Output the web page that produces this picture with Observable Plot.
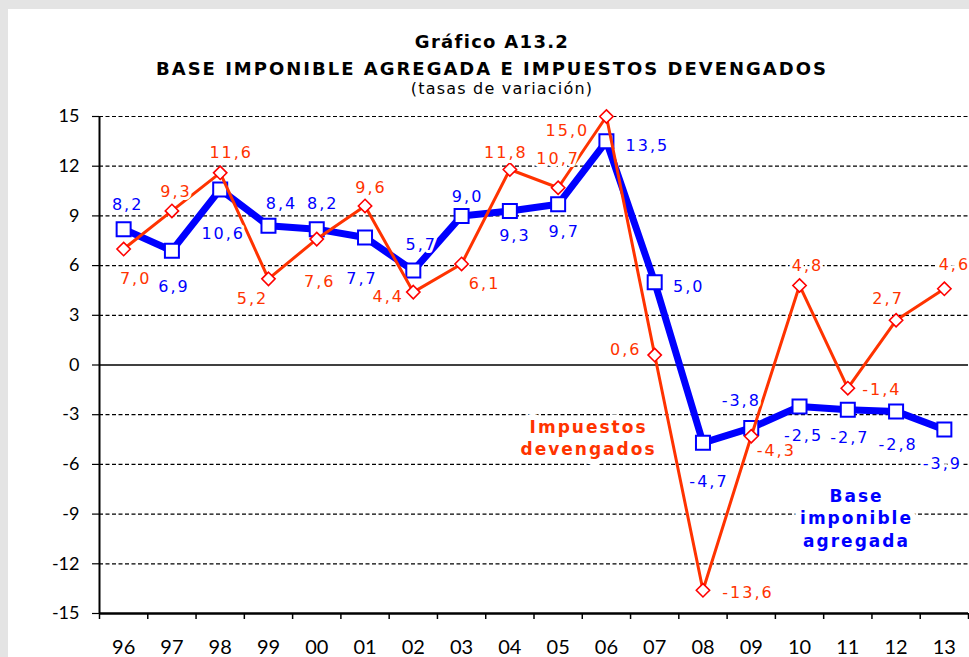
<!DOCTYPE html>
<html>
<head>
<meta charset="utf-8">
<script src="https://cdn.jsdelivr.net/npm/d3@7"></script>
<script src="https://cdn.jsdelivr.net/npm/@observablehq/plot@0.6"></script>
<style>
  html, body { margin: 0; padding: 0; width: 969px; height: 657px; overflow: hidden; background: #e4e4e4; font-family: "DejaVu Sans", Verdana, sans-serif; }
  #panel { position: absolute; left: 8px; top: 9px; width: 961px; height: 648px; background: #ffffff; }
  #chart { position: absolute; left: 0; top: 0; }
  .ttl { position: absolute; left: 0; width: 984px; text-align: center; font-weight: bold; color: #000; white-space: nowrap; }
  #t1 { top: 33px; font-size: 18px; line-height: 18px; letter-spacing: 1.3px; }
  #t2 { top: 60px; font-size: 18px; line-height: 18px; letter-spacing: 2px; }
  #t3 { top: 81px; left: 10px; font-size: 16px; line-height: 16px; letter-spacing: 1.2px; font-weight: normal; }
  #chart svg g[aria-label="text"] text { letter-spacing: 2px; }
</style>
</head>
<body>
<div id="panel"></div>
<div id="chart"></div>
<div class="ttl" id="t1">Gráfico A13.2</div>
<div class="ttl" id="t2">BASE IMPONIBLE AGREGADA E IMPUESTOS DEVENGADOS</div>
<div class="ttl" id="t3">(tasas de variación)</div>
<script>
// ---- data ----
const years = ["96","97","98","99","00","01","02","03","04","05","06","07","08","09","10","11","12","13"];
const baseImponible = [8.2, 6.9, 10.6, 8.4, 8.2, 7.7, 5.7, 9.0, 9.3, 9.7, 13.5, 5.0, -4.7, -3.8, -2.5, -2.7, -2.8, -3.9];
const impuestosDevengados = [7.0, 9.3, 11.6, 5.2, 7.6, 9.6, 4.4, 6.1, 11.8, 10.7, 15.0, 0.6, -13.6, -4.3, 4.8, -1.4, 2.7, 4.6];
const yTicks = [-15, -12, -9, -6, -3, 0, 3, 6, 9, 12, 15];

// label placement offsets (pixels) relative to each marker
const baseLabelOffsets = [[3,-24],[1,36],[2,44],[12,-22],[5,-25],[-4,41],[7,-26],[5,-19],[4,25],[5,28],[40,5],[33,5],[5,39],[-11,-27],[3,29],[1,28],[1,33],[-3,34]];
const impLabelOffsets = [[11,30],[3,-19],[10,-20],[-17,20],[2,43],[5,-18],[-26,5],[22,20],[-5,-17],[-1,-29],[-40,14],[-30,-5],[44,3],[24,15],[7,-20],[33,2],[-9,-21],[9,-24]];

const annotations = [
  {text: "Impuestos\ndevengados", x: 9.63, y: -4.35, color: "#ff3300"},
  {text: "Base\nimponible\nagregada", x: 15.18, y: -9.2, color: "#0000ff"}
];

// ---- build tables ----
const base = years.map((yr, i) => ({i, v: baseImponible[i], off: baseLabelOffsets[i]}));
const imp = years.map((yr, i) => ({i, v: impuestosDevengados[i], off: impLabelOffsets[i]}));
const fmt = v => v.toFixed(1).replace(".", ",");
const gridVals = yTicks.filter(t => t !== 0 && t !== -15);
const boundaries = d3.range(years.length + 1).map(k => k - 0.5);

const BLUE = "#0000ff", ORANGE = "#ff3300", RED = "#ff0000";

const labelMarks = (rows, color) => rows.map(d => Plot.text([d], {
  x: "i", y: "v", text: r => fmt(r.v),
  dx: d.off[0] + 1, dy: d.off[1],
  fill: color, fontSize: 16, stroke: "white", strokeWidth: 6, strokeLinejoin: "round"
}));

const chart = Plot.plot({
  width: 969,
  height: 657,
  marginLeft: 99,
  marginRight: 1,
  marginTop: 116,
  marginBottom: 44,
  style: {background: "transparent", fontFamily: "DejaVu Sans, Verdana, sans-serif", overflow: "visible"},
  x: {type: "linear", domain: [-0.5, years.length - 0.5]},
  y: {type: "linear", domain: [-15, 15]},
  marks: [
    Plot.ruleY(gridVals, {stroke: "#000", strokeWidth: 1.2, strokeDasharray: "4,2.5"}),
    Plot.ruleY([0], {stroke: "#000", strokeWidth: 1.3}),
    ...annotations.map(a => Plot.text([a], {
      x: "x", y: "y", text: "text", fill: a.color, fontWeight: "bold", fontSize: 17,
      lineHeight: 1.3, stroke: "white", strokeWidth: 12, strokeLinejoin: "round"
    })),
    Plot.axisY({ticks: yTicks, tickSize: 7, tickPadding: 13, tickFormat: d => String(d), fontSize: 18, fontFamily: "Lato", label: null, strokeWidth: 1.2}),
    Plot.axisX({ticks: boundaries, tickSize: 6, tickFormat: () => "", label: null, strokeWidth: 1.5}),
    Plot.axisX({ticks: d3.range(years.length), tickSize: 0, tickPadding: 26, tickFormat: i => years[i], fontSize: 20, fontFamily: "Lato", label: null}),
    Plot.ruleX([-0.5], {stroke: "#000", strokeWidth: 2}),
    Plot.ruleY([-15], {stroke: "#000", strokeWidth: 2.5}),
    Plot.line(base, {x: "i", y: "v", stroke: BLUE, strokeWidth: 7, strokeLinejoin: "miter"}),
    Plot.dot(base, {x: "i", y: "v", symbol: "square", r: 7.9, fill: "white", stroke: BLUE, strokeWidth: 2}),
    Plot.line(imp, {x: "i", y: "v", stroke: ORANGE, strokeWidth: 3}),
    Plot.dot(imp, {x: "i", y: "v", symbol: "diamond2", r: 6, fill: "white", stroke: RED, strokeWidth: 1.6}),
    ...labelMarks(base, BLUE),
    ...labelMarks(imp, ORANGE)
  ]
});
document.getElementById("chart").appendChild(chart);
</script>
</body>
</html>
